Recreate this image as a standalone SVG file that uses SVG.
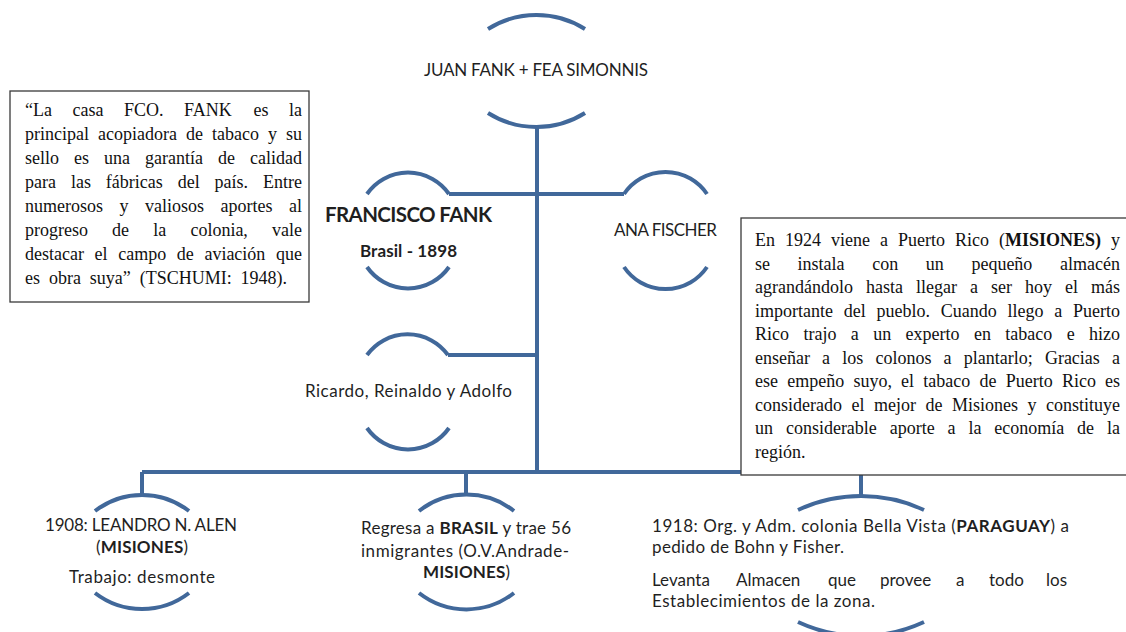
<svg xmlns="http://www.w3.org/2000/svg" width="1126" height="632" viewBox="0 0 1126 632">
<style>
.ln{stroke:#41689a;stroke-width:4;fill:none}
.sans{font-family:Lato,"Liberation Sans",sans-serif;font-size:17px;fill:#1f1f1f}
.b{font-weight:bold}
.big{font-size:20.5px}
.mid{font-size:17px}
.serif{font-family:"Liberation Serif","Times New Roman",serif;font-size:18px;fill:#111}
.box{fill:#fff;stroke:#3a3a3a;stroke-width:1.3}
</style>
<rect width="1126" height="632" fill="#fff"/>
<g id="connectors" class="ln">
<path d="M537 127V472"/>
<path d="M449 194H624"/>
<path d="M448 355H537"/>
<path d="M142 472H861"/>
<path d="M142 472V495"/>
<path d="M466 472V495"/>
<path d="M861 472V496"/>
</g>
<g id="juan">
<path class="ln" d="M488 29A91 91 0 0 1 585 29M488 113A91 91 0 0 0 585 113"/>
<text class="sans" x="424" y="76" textLength="224">JUAN FANK + FEA SIMONNIS</text>
</g>
<g id="francisco">
<path class="ln" d="M367 194A50 50 0 0 1 449 194M367 267A50 50 0 0 0 449 267"/>
<text class="sans b big" x="325" y="222" textLength="167">FRANCISCO FANK</text>
<text class="sans b mid" x="360" y="257" textLength="97">Brasil - 1898</text>
</g>
<g id="ana">
<path class="ln" d="M624 194A50 50 0 0 1 707 194M624 267A50 50 0 0 0 707 267"/>
<text class="sans" x="614" y="236" textLength="103">ANA FISCHER</text>
</g>
<g id="hijos">
<path class="ln" d="M367 355A50 50 0 0 1 448 355M367 428A50 50 0 0 0 449 428"/>
<text class="sans" x="305" y="397" textLength="207">Ricardo, Reinaldo y Adolfo</text>
</g>
<g id="quote">
<rect class="box" x="10" y="91" width="299" height="211"/>
<text class="serif" y="116"><tspan x="25">“La</tspan><tspan x="72.5">casa</tspan><tspan x="124">FCO.</tspan><tspan x="184">FANK</tspan><tspan x="253.5">es</tspan><tspan x="289">la</tspan></text>
<text class="serif" y="140"><tspan x="25">principal</tspan><tspan x="98">acopiadora</tspan><tspan x="186">de</tspan><tspan x="212">tabaco</tspan><tspan x="268">y</tspan><tspan x="286">su</tspan></text>
<text class="serif" y="164"><tspan x="25">sello</tspan><tspan x="74">es</tspan><tspan x="104">una</tspan><tspan x="145">garantía</tspan><tspan x="218">de</tspan><tspan x="250">calidad</tspan></text>
<text class="serif" y="188"><tspan x="25">para</tspan><tspan x="70.9">las</tspan><tspan x="105.8">fábricas</tspan><tspan x="177.7">del</tspan><tspan x="214.6">país.</tspan><tspan x="263">Entre</tspan></text>
<text class="serif" y="212"><tspan x="25">numerosos</tspan><tspan x="119.5">y</tspan><tspan x="145">valiosos</tspan><tspan x="220.5">aportes</tspan><tspan x="289">al</tspan></text>
<text class="serif" y="236"><tspan x="25">progreso</tspan><tspan x="112.1">de</tspan><tspan x="153.3">la</tspan><tspan x="190.4">colonia,</tspan><tspan x="272">vale</tspan></text>
<text class="serif" y="260"><tspan x="25">destacar</tspan><tspan x="94.6">el</tspan><tspan x="118.2">campo</tspan><tspan x="176.8">de</tspan><tspan x="204.4">aviación</tspan><tspan x="276">que</tspan></text>
<text class="serif" y="284"><tspan x="25">es</tspan><tspan x="48.9">obra</tspan><tspan x="89.8">suya”</tspan><tspan x="139.7">(TSCHUMI:</tspan><tspan x="240.6">1948).</tspan></text>
</g>
<g id="puertorico">
<rect class="box" x="741" y="218" width="400" height="257"/>
<text class="serif" y="246"><tspan x="755">En</tspan><tspan x="785">1924</tspan><tspan x="831">viene</tspan><tspan x="880">a</tspan><tspan x="898">Puerto</tspan><tspan x="955">Rico</tspan><tspan x="999">(<tspan class="b">MISIONES)</tspan></tspan><tspan x="1111">y</tspan></text>
<text class="serif" y="269.5"><tspan x="755">se</tspan><tspan x="797.6">instala</tspan><tspan x="872.2">con</tspan><tspan x="925.8">un</tspan><tspan x="971.4">pequeño</tspan><tspan x="1060">almacén</tspan></text>
<text class="serif" y="293"><tspan x="755">agrandándolo</tspan><tspan x="866">hasta</tspan><tspan x="916">llegar</tspan><tspan x="970">a</tspan><tspan x="991">ser</tspan><tspan x="1025">hoy</tspan><tspan x="1065">el</tspan><tspan x="1091">más</tspan></text>
<text class="serif" y="316.5"><tspan x="755">importante</tspan><tspan x="843.7">del</tspan><tspan x="876.5">pueblo.</tspan><tspan x="940.7">Cuando</tspan><tspan x="1007.5">llego</tspan><tspan x="1054.2">a</tspan><tspan x="1073">Puerto</tspan></text>
<text class="serif" y="340"><tspan x="755">Rico</tspan><tspan x="803.4">trajo</tspan><tspan x="850.8">a</tspan><tspan x="873.2">un</tspan><tspan x="905.5">experto</tspan><tspan x="973.9">en</tspan><tspan x="1005.3">tabaco</tspan><tspan x="1066.7">e</tspan><tspan x="1089">hizo</tspan></text>
<text class="serif" y="363.5"><tspan x="755">enseñar</tspan><tspan x="822.1">a</tspan><tspan x="842.3">los</tspan><tspan x="875.5">colonos</tspan><tspan x="943.6">a</tspan><tspan x="963.8">plantarlo;</tspan><tspan x="1044.9">Gracias</tspan><tspan x="1112">a</tspan></text>
<text class="serif" y="387"><tspan x="755">ese</tspan><tspan x="787.2">empeño</tspan><tspan x="853.4">suyo,</tspan><tspan x="901.1">el</tspan><tspan x="923.3">tabaco</tspan><tspan x="979.5">de</tspan><tspan x="1005.7">Puerto</tspan><tspan x="1061.9">Rico</tspan><tspan x="1105">es</tspan></text>
<text class="serif" y="410.5"><tspan x="755">considerado</tspan><tspan x="851.5">el</tspan><tspan x="874">mejor</tspan><tspan x="925.5">de</tspan><tspan x="952">Misiones</tspan><tspan x="1027.5">y</tspan><tspan x="1046">constituye</tspan></text>
<text class="serif" y="434"><tspan x="755">un</tspan><tspan x="785.9">considerable</tspan><tspan x="889.7">aporte</tspan><tspan x="947.6">a</tspan><tspan x="968.4">la</tspan><tspan x="994.3">economía</tspan><tspan x="1077.1">de</tspan><tspan x="1107">la</tspan></text>
<text class="serif" x="755" y="457.5">región.</text>
</g>
<g id="alen">
<path class="ln" d="M95 511A77 77 0 0 1 189 511M95 593A77 77 0 0 0 189 593"/>
<text class="sans" x="45" y="531" textLength="192">1908: LEANDRO N. ALEN</text>
<text class="sans" x="96" y="553" textLength="92">(<tspan class="b">MISIONES</tspan>)</text>
<text class="sans" x="69" y="583" textLength="146">Trabajo: desmonte</text>
</g>
<g id="brasil">
<path class="ln" d="M419 511A77 77 0 0 1 514 511M419 593A77 77 0 0 0 514 593"/>
<text class="sans" x="361" y="534" textLength="210">Regresa a <tspan class="b">BRASIL</tspan> y trae 56</text>
<text class="sans" x="361" y="557" textLength="208">inmigrantes  (O.V.Andrade-</text>
<text class="sans" x="423" y="578" textLength="87"><tspan class="b">MISIONES</tspan>)</text>
</g>
<g id="paraguay">
<path class="ln" d="M798 510A149 149 0 0 1 924 510M798 622A149 149 0 0 0 924 622"/>
<text class="sans" x="652" y="532" textLength="417">1918: Org. y Adm. colonia Bella Vista (<tspan class="b">PARAGUAY</tspan>) a</text>
<text class="sans" x="652" y="553" textLength="192">pedido de Bohn y Fisher.</text>
<text class="sans" y="586"><tspan x="652">Levanta</tspan><tspan x="736">Almacen</tspan><tspan x="828">que</tspan><tspan x="880">provee</tspan><tspan x="956">a</tspan><tspan x="989">todo</tspan><tspan x="1046">los</tspan></text>
<text class="sans" x="652" y="607" textLength="223">Establecimientos de la zona.</text>
</g>
</svg>
